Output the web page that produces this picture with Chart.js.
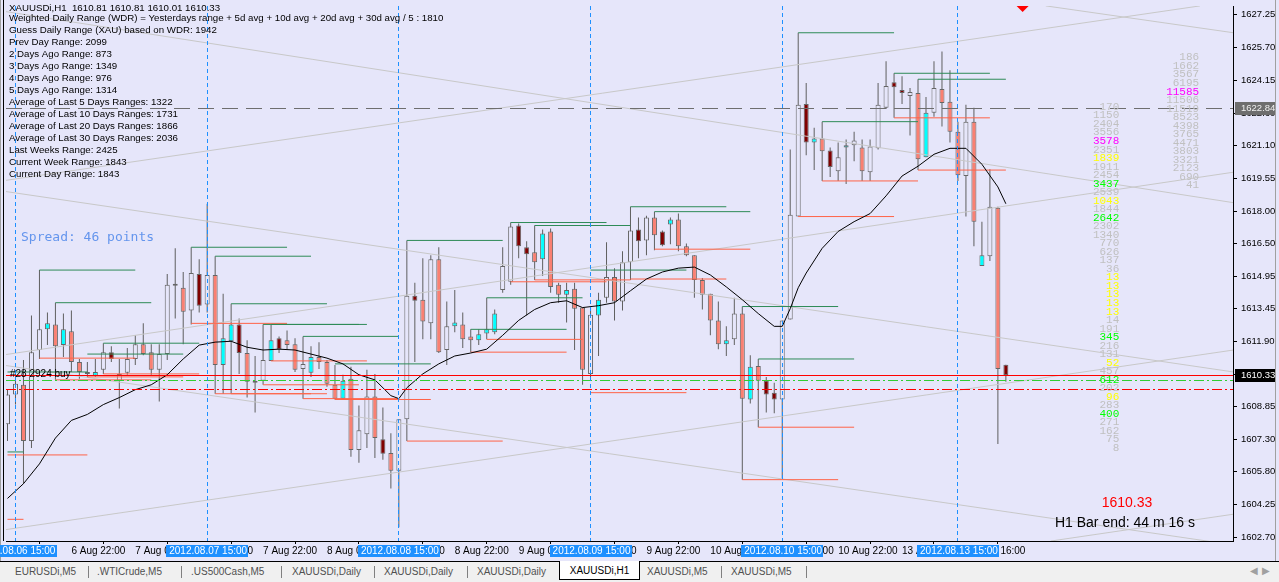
<!DOCTYPE html>
<html>
<head>
<meta charset="utf-8">
<title>XAUUSDi,H1</title>
<script src="https://cdn.jsdelivr.net/npm/chart.js@4.4.0/dist/chart.umd.min.js"></script>
<style>
  html, body { margin: 0; padding: 0; background: #E6E6FA; overflow: hidden; }
  #wrap { position: relative; width: 1279px; height: 582px; }
  #c { position: absolute; left: 0; top: 0; }
  #tabs { position: absolute; left: 0; top: 561px; width: 1279px; height: 21px; background: #F0F0F0;
          border-top: 1px solid #000; box-sizing: border-box;
          font: 10px "Liberation Sans", Arial, sans-serif; color: #505050; }
  #tabs span { position: absolute; top: 4px; white-space: nowrap; }
  #tabs i { position: absolute; top: 4px; width: 1px; height: 12px; background: #808080; }
  #tabs .act { top: -1px; height: 19px; background: #fff; border: 1px solid #000; border-top: none;
               color: #000; line-height: 19px; text-align: center; box-sizing: border-box; }
  #tabs b { position: absolute; top: 3px; font-weight: normal; color: #A0A0A0; font-size: 10px; }
</style>
</head>
<body>
<div id="wrap">
  <canvas id="c" width="1279" height="562"></canvas>
  <div id="tabs">
    <span style="left:15px">EURUSDi,M5</span><i style="left:88px"></i>
    <span style="left:97px">.WTICrude,M5</span><i style="left:181px"></i>
    <span style="left:191px">.US500Cash,M5</span><i style="left:281px"></i>
    <span style="left:292px">XAUUSDi,Daily</span><i style="left:374px"></i>
    <span style="left:384px">XAUUSDi,Daily</span><i style="left:467px"></i>
    <span style="left:477px">XAUUSDi,Daily</span>
    <span class="act" style="left:559px;width:81px">XAUUSDi,H1</span>
    <span style="left:647px">XAUUSDi,M5</span><i style="left:721px"></i>
    <span style="left:731px">XAUUSDi,M5</span><i style="left:806px"></i>
    <b style="left:1250px">&#9664;</b><b style="left:1262px">&#9654;</b>
  </div>
</div>
<script>
// hourly bars, XAUUSDi H1, 6 Aug 14:00 .. 13 Aug 16:00 (bar index = position)
const opens = [1608.02,1609.41,1609.87,1607.23,1611.50,1612.47,1612.70,1611.73,1612.38,1610.94,
  1610.47,1610.29,1610.57,1611.40,1610.06,1610.43,1611.08,1611.77,1611.40,1610.57,
  1611.31,1614.56,1614.42,1613.35,1615.07,1613.63,1615.02,1610.80,1611.91,1612.70,
  1611.36,1609.96,1610.06,1610.99,1612.05,1611.96,1611.77,1610.61,1610.43,1611.17,
  1610.94,1609.87,1609.22,1610.15,1606.81,1607.55,1609.32,1607.32,1606.67,1605.84,
  1608.25,1614.05,1613.86,1612.75,1615.76,1611.50,1612.61,1612.70,1612.14,1611.96,
  1612.28,1612.33,1614.32,1614.70,1617.34,1616.32,1616.09,1615.76,1617.06,1614.56,
  1614.09,1614.37,1613.49,1610.38,1613.12,1613.95,1614.93,1613.77,1615.62,1617.15,
  1616.64,1617.71,1617.06,1617.39,1617.62,1616.37,1615.95,1614.79,1614.14,1612.89,
  1611.77,1612.00,1613.21,1609.18,1610.75,1610.06,1609.50,1609.18,1612.93,1617.76,
  1623.04,1621.23,1621.42,1620.86,1619.89,1621.00,1621.10,1621.00,1619.84,1620.96,
  1622.86,1624.06,1623.69,1623.41,1623.55,1620.54,1622.63,1623.74,1623.14,1621.74,
  1619.66,1622.21,1615.44,1615.90,1618.17,1610.81];
const highs = [1609.64,1610.38,1611.03,1613.12,1615.25,1613.26,1613.72,1613.21,1613.35,1611.08,
  1610.94,1611.08,1611.82,1611.68,1611.08,1611.59,1612.19,1612.75,1611.77,1611.77,
  1615.07,1616.27,1615.16,1616.32,1615.76,1618.36,1615.90,1614.14,1613.67,1612.98,
  1611.96,1611.22,1612.70,1612.70,1612.14,1612.42,1612.05,1612.14,1611.68,1611.87,
  1611.03,1610.80,1610.34,1610.71,1608.90,1610.57,1610.38,1608.81,1607.60,1608.25,
  1616.64,1614.65,1615.81,1615.95,1616.32,1613.77,1614.32,1613.26,1612.47,1612.47,
  1613.95,1613.40,1616.32,1617.48,1617.43,1616.60,1617.34,1617.15,1617.20,1614.65,
  1614.65,1614.65,1613.49,1613.49,1614.19,1616.55,1615.34,1616.13,1618.22,1617.71,
  1617.80,1617.99,1617.11,1617.71,1617.90,1616.50,1615.95,1614.88,1614.14,1613.77,
  1612.61,1613.95,1613.54,1611.26,1611.08,1610.24,1609.96,1612.89,1620.91,1626.38,
  1624.02,1621.93,1622.21,1621.00,1621.23,1621.37,1621.74,1621.37,1621.37,1624.02,
  1625.04,1624.48,1624.34,1623.79,1624.20,1623.37,1625.04,1625.50,1624.62,1622.21,
  1623.00,1622.86,1617.52,1619.98,1618.22,1610.81];
const lows = [1607.23,1608.94,1605.23,1606.90,1611.08,1611.73,1610.10,1611.17,1610.47,1610.15,
  1610.24,1610.24,1610.38,1610.94,1608.76,1610.34,1610.80,1611.26,1610.34,1609.08,
  1611.03,1612.98,1611.77,1612.70,1613.26,1613.26,1609.45,1609.45,1609.45,1610.38,
  1609.27,1608.57,1609.87,1610.99,1611.36,1611.54,1610.47,1609.22,1610.24,1610.61,
  1609.78,1609.18,1609.22,1606.49,1606.21,1606.90,1606.44,1606.35,1605.00,1603.19,
  1607.23,1610.94,1612.00,1612.00,1611.36,1610.80,1612.33,1611.59,1611.40,1611.73,
  1612.00,1612.24,1614.19,1614.56,1615.81,1613.12,1614.79,1614.97,1614.19,1613.72,
  1612.79,1611.50,1609.87,1610.24,1611.22,1613.72,1612.89,1613.35,1614.79,1615.81,
  1615.95,1616.18,1616.37,1616.46,1616.13,1615.90,1613.95,1613.40,1612.19,1611.54,
  1611.22,1611.73,1605.42,1608.99,1607.88,1608.57,1608.53,1605.47,1612.93,1617.76,
  1620.63,1619.94,1619.43,1619.61,1619.43,1619.29,1620.35,1619.43,1619.43,1620.91,
  1622.81,1622.39,1623.04,1621.56,1619.94,1620.54,1622.44,1621.98,1621.23,1619.43,
  1617.76,1616.37,1615.44,1615.67,1607.09,1610.01];
const closes = [1609.41,1609.92,1607.23,1611.40,1612.47,1612.75,1611.68,1612.47,1610.94,1610.47,
  1610.38,1610.47,1611.40,1611.08,1610.38,1611.08,1611.77,1611.31,1610.57,1611.31,
  1614.56,1614.51,1613.30,1615.11,1613.58,1615.02,1610.80,1612.05,1612.70,1611.36,
  1610.01,1610.06,1611.03,1611.96,1611.54,1611.73,1610.57,1610.85,1611.17,1610.94,
  1609.92,1609.22,1610.06,1606.81,1607.74,1609.32,1607.37,1606.63,1605.84,1608.25,
  1614.05,1613.81,1612.84,1615.76,1611.40,1612.61,1612.79,1612.00,1611.96,1612.24,
  1612.47,1613.21,1615.44,1617.29,1616.37,1615.99,1615.62,1616.97,1614.46,1614.09,
  1614.32,1613.44,1610.57,1613.16,1613.86,1614.93,1613.77,1615.62,1617.11,1616.60,
  1617.71,1616.88,1616.41,1617.62,1616.37,1615.95,1614.79,1614.09,1612.89,1611.77,
  1611.96,1613.21,1609.22,1610.71,1610.06,1609.41,1609.18,1612.89,1617.85,1623.00,
  1621.23,1621.42,1620.82,1620.08,1620.54,1621.10,1621.33,1619.89,1621.05,1623.00,
  1623.88,1623.83,1623.55,1623.60,1620.45,1622.63,1623.79,1623.09,1621.74,1619.70,
  1622.21,1617.52,1615.95,1618.22,1610.61,1610.33];
// body colour per bar: u = up, d = down, c = aqua, r = maroon
const barKind = "uuduucdcddrcur" + "uuudduurdur" + "udccrdcucrdducdddcduudrdu" +
  "urduducddcccuurrdcddcdduc" + "uduurudrcddddddcudcdrruuu" + "rcdrucuduuurrudcudddudcudr";

// black moving average
const maBars = [0,2,4,6,8,10,12,14,16,18,20,22,24,26,28,30,32,34,36,38,40,42,44,46,48,49,50,52,54,56,58,60,
  62,64,66,68,70,72,74,76,78,80,82,84,86,88,90,92,94,96,97,98,99,100,102,104,106,108,110,112,114,116,118,120,122,124,125];
const maValues = [1604.54,1605.23,1606.16,1607.37,1608.20,1608.48,1608.94,1609.27,1609.64,1609.87,1610.34,1611.08,
  1611.73,1611.87,1611.91,1611.63,1611.50,1611.54,1611.50,1611.31,1611.12,1610.85,1610.34,1610.10,1609.36,1609.22,
  1609.73,1610.38,1610.85,1611.22,1611.36,1611.54,1612.19,1612.89,1613.40,1613.72,1613.81,1613.49,1613.58,1613.72,
  1614.28,1614.83,1615.16,1615.34,1615.39,1615.02,1614.46,1613.86,1613.21,1612.61,1612.61,1613.44,1614.42,1615.11,
  1616.27,1617.06,1617.52,1617.90,1618.73,1619.66,1620.12,1620.68,1620.96,1620.96,1620.21,1619.15,1618.36];

// range levels (green = high, tomato = low), from bar .. to bar
const greenFrom  = [4,6,12,10,23,26,28,32,33,37,41,50,63,66,60,58,78,81,73,92,94,99,102,111,114,0,0];
const greenTo    = [16,18,24,22,35,38,40,44,45,49,53,62,75,78,72,70,90,93,85,104,106,111,114,123,125,10,2];
const greenPrice = [1615.25,1613.72,1611.82,1611.31,1616.32,1615.90,1613.67,1612.70,1612.70,1612.14,1610.85,
  1616.64,1617.48,1617.34,1613.95,1612.47,1618.22,1617.99,1615.25,1613.54,1611.08,1626.38,1622.21,1624.48,1624.20,
  1610.47,1606.72];
const lowFrom  = [4,6,12,10,23,26,28,33,32,37,41,50,58,60,63,66,73,78,81,92,94,99,102,111,114,0,0];
const lowTo    = [16,18,24,22,35,38,40,45,44,49,53,62,70,72,75,78,85,90,93,104,106,111,114,123,125,10,2];
const lowPrice = [1611.12,1610.10,1610.38,1610.24,1612.75,1609.45,1609.45,1610.99,1609.87,1609.22,1609.18,
  1607.23,1611.40,1612.00,1614.70,1614.79,1609.50,1614.83,1616.23,1605.42,1607.88,1617.76,1619.43,1622.39,1619.94,
  1606.58,1603.56];

// light grey trend lines
const trendBar0   = [-0.7,-0.7,-0.7,-0.7,-0.7,-0.7,130.6,130.0];
const trendPrice0 = [1627.40,1619.43,1618.96,1611.26,1610.80,1603.05,1602.54,1627.64];
const trendBar1   = [153.5,149.3,153.5,153.5,153.5,153.5,153.5,153.5];
const trendPrice1 = [1618.41,1627.64,1610.47,1619.84,1602.36,1611.50,1603.80,1626.38];

// volume-at-price columns
const profileLeft = [170,1150,2404,3556,3578,2351,1839,1911,2454,3437,2539,1043,1844,2642,2302,1340,770,626,137,36,
  13,13,13,13,13,14,191,345,216,131,52,457,612,202,96,283,400,271,162,75,8];
const profileLeftHue = "ggggmgyggl" + "gyglgggggg" + "yyyyygglgg" + "yglgyglggg" + "g";
const profileRight = [186,1662,3567,6195,11585,11506,11519,8523,4398,3765,4471,3803,3321,2123,690,41];
const profileRightHue = "ggggmggggggggggg";
const profileLeftTop = 1622.90, profileRightTop = 1625.22, profileStep = 0.40;

const yTicks = [1627.25,1625.70,1624.15,1622.60,1621.10,1619.55,1618.00,1616.50,1614.95,1613.45,1611.90,1610.35,
  1608.85,1607.30,1605.80,1604.25,1602.70];
const xTickBars = [8,16,24,32,40,48,56,64,72,80,88,96,104,112,120];
const xTickText = ["6 Aug 22:00","7 Aug 06:00","7 Aug 14:00","7 Aug 22:00","8 Aug 06:00","8 Aug 14:00","8 Aug 22:00",
  "9 Aug 06:00","9 Aug 14:00","9 Aug 22:00","10 Aug 06:00","10 Aug 14:00","10 Aug 22:00","13 Aug 08:00","13 Aug 16:00"];
const vLineBars = [1,25,49,73,97,119];
const vLineText = ["2012.08.06 15:00","2012.08.07 15:00","2012.08.08 15:00","2012.08.09 15:00","2012.08.10 15:00","2012.08.13 15:00"];

const infoLines = [
  "XAUUSDi,H1  1610.81 1610.81 1610.01 1610.33",
  "Weighted Daily Range (WDR) = Yesterdays range + 5d avg + 10d avg + 20d avg + 30d avg / 5 : 1810",
  "Guess Daily Range (XAU) based on WDR: 1942",
  "Prev Day Range: 2099",
  "2 Days Ago Range: 873",
  "3 Days Ago Range: 1349",
  "4 Days Ago Range: 976",
  "5 Days Ago Range: 1314",
  "Average of Last 5 Days Ranges: 1322",
  "Average of Last 10 Days Ranges: 1731",
  "Average of Last 20 Days Ranges: 1866",
  "Average of Last 30 Days Ranges: 2036",
  "Last Weeks Range: 2425",
  "Current Week Range: 1843",
  "Current Day Range: 1843"
];

const bidPrice = 1610.33, orderPrice = 1610.10, stopPrice = 1609.67, levelPrice = 1622.84;
const markerBar = 127.1;

// ---------------------------------------------------------------
const priceMax = 1627.635, priceMin = 1602.543;
const barMin = -0.1875, barMax = 153.4375;
const bodyColor = { u: "#E6E6FA", d: "#FA8072", c: "#00FFFF", r: "#800000" };
const hueColor = { g: "#C0C0C0", m: "#FF00FF", y: "#FFFF00", l: "#00FF00" };
const SANS = '"Liberation Sans", Arial, sans-serif';

const wickData = highs.map((h, i) => ({ x: i, y: [lows[i], h] }));
const bodyData = opens.map((o, i) => ({ x: i, y: [Math.min(o, closes[i]), Math.max(o, closes[i])] }));
const maData = maBars.map((b, k) => ({ x: b, y: maValues[k] }));

function segments(from, to, price) {
  const out = [];
  from.forEach((f, k) => {
    out.push({ x: f, y: price[k] }, { x: to[k], y: price[k] }, { x: to[k], y: null });
  });
  return out;
}
const trendData = [];
trendBar0.forEach((b, k) => {
  trendData.push({ x: b, y: trendPrice0[k] }, { x: trendBar1[k], y: trendPrice1[k] }, { x: trendBar1[k], y: null });
});

// 1px horizontal line made of filled runs, so the colour stays solid
function hline(ctx, area, y, color, dash) {
  const yy = Math.round(y);
  ctx.save();
  ctx.fillStyle = color;
  if (!dash.length) {
    ctx.fillRect(area.left, yy, area.right - area.left, 1);
  } else {
    let x = area.left, k = 0;
    while (x < area.right) {
      const len = dash[k % dash.length];
      if (k % 2 === 0) ctx.fillRect(x, yy, Math.min(len, area.right - x), 1);
      x += len;
      k++;
    }
  }
  ctx.restore();
}

const mtPlugin = {
  id: "mt",
  beforeDraw(chart) {
    const { ctx, width, height } = chart;
    ctx.save();
    ctx.fillStyle = "#E6E6FA";
    ctx.fillRect(0, 0, width, height);
    ctx.restore();
  },
  afterDatasetsDraw(chart) {
    const { ctx, chartArea: a, scales: { x: xs, y: ys } } = chart;
    hline(ctx, a, ys.getPixelForValue(levelPrice), "#6E6E6E", [16, 8]);
    hline(ctx, a, ys.getPixelForValue(stopPrice), "#FF0000", [10, 3, 2, 3]);
    hline(ctx, a, ys.getPixelForValue(orderPrice), "#32CD32", [10, 3, 2, 3]);
    hline(ctx, a, ys.getPixelForValue(bidPrice), "#FF0000", []);
    // period separators
    ctx.save();
    ctx.fillStyle = "#1E90FF";
    vLineBars.forEach(b => {
      const x = Math.floor(xs.getPixelForValue(b));
      for (let y = a.top; y < a.bottom; y += 7) ctx.fillRect(x, y, 1, Math.min(4, a.bottom - y));
    });
    ctx.restore();
  },
  afterDraw(chart) {
    const { ctx, chartArea: a, scales: { x: xs, y: ys } } = chart;
    ctx.save();
    // frame
    ctx.fillStyle = "#000";
    ctx.fillRect(3, 0, 1, a.bottom);
    ctx.fillStyle = "#A0A0A0";
    ctx.fillRect(0, 0, 1, 562);
    ctx.fillRect(1275, 0, 1, 562);

    // info block
    ctx.fillStyle = "#000";
    ctx.textBaseline = "middle";
    ctx.textAlign = "left";
    ctx.font = "9.7px " + SANS;
    infoLines.forEach((t, k) => ctx.fillText(t, 9, k === 0 ? 8 : 18.5 + 12 * (k - 1)));

    ctx.font = '13px "DejaVu Sans Mono", monospace';
    ctx.fillStyle = "#6495ED";
    ctx.fillText("Spread: 46 points", 21, 238);

    ctx.font = "10px " + SANS;
    ctx.fillStyle = "#000";
    ctx.fillText("#28 2924 buy", 10, ys.getPixelForValue(orderPrice) - 6);

    // volume columns
    ctx.font = '11px "Liberation Mono", monospace';
    ctx.textAlign = "right";
    const col = (vals, hue, top, bar) => {
      const xr = xs.getPixelForValue(bar);
      for (const pass of [0, 1]) {
        vals.forEach((v, k) => {
          if ((hue[k] === "g") !== (pass === 0)) return;
          ctx.fillStyle = hueColor[hue[k]];
          ctx.fillText(String(v), xr, ys.getPixelForValue(top - k * profileStep));
        });
      }
    };
    col(profileLeft, profileLeftHue, profileLeftTop, 139.2);
    col(profileRight, profileRightHue, profileRightTop, 149.2);

    // bar timer
    ctx.textAlign = "center";
    ctx.font = "14px " + SANS;
    ctx.fillStyle = "#FF0000";
    ctx.fillText(closes[closes.length - 1].toFixed(2), 1127, 503);
    ctx.fillStyle = "#000";
    ctx.fillText("H1 Bar end: 44 m 16 s", 1125, 523);

    // price boxes on the axis
    ctx.font = "9.5px " + SANS;
    ctx.textAlign = "left";
    const box = (p, bg, fg) => {
      const y = Math.round(ys.getPixelForValue(p));
      ctx.fillStyle = bg;
      ctx.fillRect(a.right + 2, y - 6, 40, 13);
      ctx.fillStyle = fg;
      ctx.fillText(p.toFixed(2), a.right + 8, y + 0.5);
    };
    box(levelPrice, "#6E6E6E", "#F0F0F0");
    box(bidPrice, "#000000", "#FFFFFF");

    // separator date boxes under the axis
    ctx.textAlign = "center";
    ctx.font = "10px " + SANS;
    vLineBars.forEach((b, k) => {
      const x = xs.getPixelForValue(b);
      const w = ctx.measureText(vLineText[k]).width + 4;
      ctx.fillStyle = "#1E90FF";
      ctx.fillRect(Math.round(x - w / 2), a.bottom + 4, Math.round(w), 12);
      ctx.fillStyle = "#FFFFFF";
      ctx.fillText(vLineText[k], x + 1, a.bottom + 10);
    });
    ctx.restore();
  }
};

new Chart(document.getElementById("c"), {
  type: "bar",
  data: {
    datasets: [
      { type: "bar", data: wickData, backgroundColor: "#5F5F5F", borderWidth: 0, grouped: false,
        barPercentage: 1, categoryPercentage: 1, maxBarThickness: 1, inflateAmount: 0, order: 10 },
      { type: "bar", data: bodyData, backgroundColor: bodyData.map((d, i) => bodyColor[barKind[i]]),
        borderColor: "#666666", borderWidth: 1, borderSkipped: false, minBarLength: 2, grouped: false,
        barPercentage: 1, categoryPercentage: 1, maxBarThickness: 5, inflateAmount: 0, order: 9 },
      { type: "line", data: trendData, borderColor: "#C8C8C8", borderWidth: 1, pointRadius: 0, spanGaps: false, order: 6 },
      { type: "line", data: segments(greenFrom, greenTo, greenPrice), borderColor: "#2E8B57", borderWidth: 1,
        pointRadius: 0, spanGaps: false, order: 4 },
      { type: "line", data: segments(lowFrom, lowTo, lowPrice), borderColor: "#FF6347", borderWidth: 1,
        pointRadius: 0, spanGaps: false, order: 4 },
      { type: "line", data: maData, borderColor: "#000000", borderWidth: 1, pointRadius: 0, tension: 0, order: 3 },
      { type: "line", data: [{ x: markerBar, y: priceMax }], showLine: false, pointStyle: "rectRot",
        pointRadius: 6, pointBackgroundColor: "#FF0000", pointBorderWidth: 0, order: 1 }
    ]
  },
  options: {
    responsive: false,
    devicePixelRatio: 1,
    animation: false,
    events: [],
    layout: { padding: { left: 4, right: 0, top: 0, bottom: 0 } },
    plugins: { legend: { display: false }, tooltip: { enabled: false } },
    scales: {
      x: {
        type: "linear", min: barMin, max: barMax, offset: false,
        afterBuildTicks: s => { s.ticks = xTickBars.map(v => ({ value: v })); },
        afterFit: s => { s.height = 21; s.paddingLeft = 0; s.paddingRight = 0; },
        ticks: { autoSkip: false, maxRotation: 0, minRotation: 0, align: "start", padding: 1, color: "#000",
                 font: { family: "Liberation Sans", size: 10 }, callback: (v, i) => xTickText[i] },
        grid: { display: true, drawOnChartArea: false, drawTicks: true, tickLength: 3, color: "#000" },
        border: { display: true, color: "#000" }
      },
      y: {
        position: "right", min: priceMin, max: priceMax,
        afterBuildTicks: s => { s.ticks = yTicks.map(v => ({ value: v })); },
        afterFit: s => { s.width = 46; s.paddingTop = 0; s.paddingBottom = 0; },
        ticks: { padding: 4, color: "#000", font: { family: "Liberation Sans", size: 9.5 },
                 callback: (v, i) => yTicks[i].toFixed(2) },
        grid: { drawOnChartArea: false, drawTicks: true, tickLength: 4, color: "#000" },
        border: { display: true, color: "#000" }
      }
    }
  },
  plugins: [mtPlugin]
});
</script>
</body>
</html>
